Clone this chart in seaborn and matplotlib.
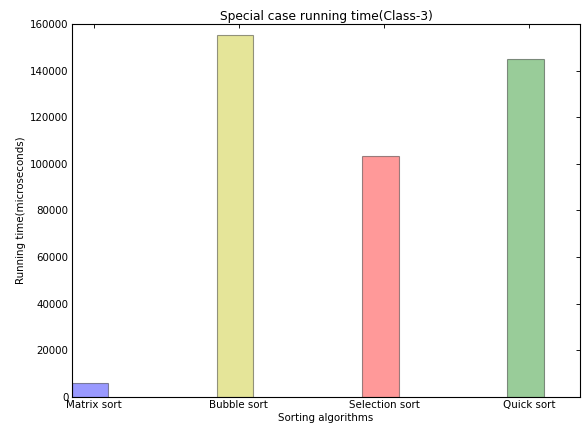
import matplotlib
matplotlib.use("Agg")
import matplotlib.pyplot as plt
import matplotlib.ticker as mticker
import seaborn as sns
import pandas as pd

algorithms = ["Matrix sort", "Bubble sort", "Selection sort", "Quick sort"]
running_time = [5900, 155100, 103200, 144800]
bar_colors = ["#0000ff", "#bfbf00", "#ff0000", "#008000"]

sns.set_style("white")
plt.rcParams.update({
    "font.family": ["DejaVu Sans"],
    "xtick.direction": "in",
    "ytick.direction": "in",
    "xtick.top": True,
    "ytick.right": True,
    "xtick.major.size": 4,
    "ytick.major.size": 4,
    "axes.edgecolor": "black",
    "axes.linewidth": 1.0,
    "text.color": "black",
    "axes.labelcolor": "black",
    "xtick.color": "black",
    "ytick.color": "black",
})

df = pd.DataFrame({"algorithm": algorithms, "time": running_time})

fig = plt.figure(figsize=(7.3, 5.3125), dpi=80)
ax = fig.add_axes([72 / 584, 1 - 397 / 425, (580 - 72) / 584, (397 - 24) / 425])

sns.barplot(data=df, x="algorithm", y="time", hue="algorithm",
            palette=bar_colors, width=0.25, alpha=0.4, saturation=1,
            edgecolor="black", linewidth=1.0, legend=False, ax=ax,
            errorbar=None)

n = len(algorithms)
ax.set_xlim(-0.125, n - 0.625)
ax.set_xticks([i + 0.025 for i in range(n)])
ax.set_xticklabels(algorithms, fontsize=9.2)
ax.set_ylim(0, 160000)
ax.yaxis.set_major_locator(mticker.MultipleLocator(20000))
ax.yaxis.set_major_formatter(mticker.FuncFormatter(lambda v, p: f"{int(v)}"))
ax.tick_params(axis="y", labelsize=9.2, pad=3)
ax.tick_params(axis="x", pad=3)
for s in ax.spines.values():
    s.set_visible(True)
    s.set_color("black")

ax.set_xlabel("Sorting algorithms", fontsize=9.2, labelpad=2)
ax.set_ylabel("Running time(microseconds)", fontsize=9.2, labelpad=4)
ax.set_title("Special case running time(Class-3)", fontsize=11, pad=4)

fig.savefig("out.png", dpi=80)
